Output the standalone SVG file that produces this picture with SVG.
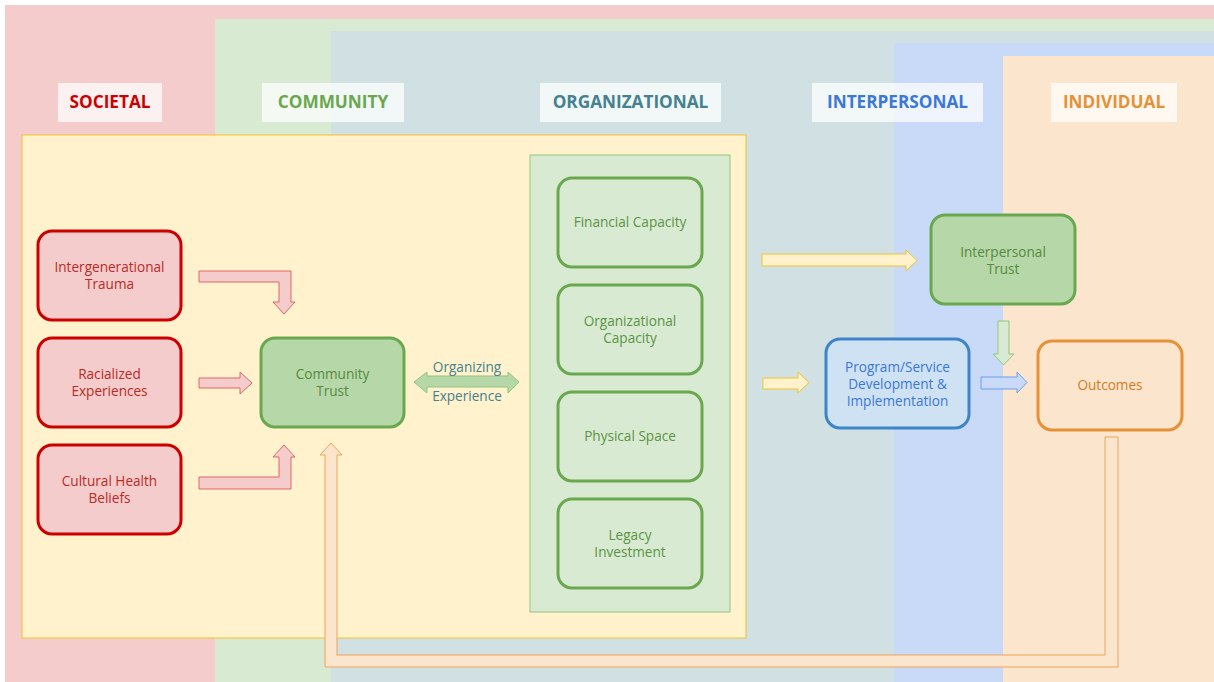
<svg xmlns="http://www.w3.org/2000/svg" width="1214" height="682" viewBox="0 0 1214 682">
<style>
.hdrbox{fill:#ffffff;fill-opacity:0.72}
.hdr{font-family:"Open Sans","Liberation Sans",sans-serif;font-size:17.2px;font-weight:bold;text-anchor:middle}
.lbl{font-family:"Open Sans","Liberation Sans",sans-serif;font-size:13.6px;text-anchor:middle}
.red{fill:#f4cccc;stroke:#cc0000;stroke-width:3}
.grn{fill:#b6d7a8;stroke:#6aa84f;stroke-width:3}
.lgrn{fill:#d9ead3;stroke:#6aa84f;stroke-width:3}
.arr-red{fill:#f4cccc;stroke:#e06666;stroke-width:1}
.arr-yel{fill:#fff2cc;stroke:#f1c232;stroke-width:1}
.arr-grn{fill:#b6d7a8;stroke:#93c47d;stroke-width:1}
.arr-lgrn{fill:#d9ead3;stroke:#93c47d;stroke-width:1}
.arr-blu{fill:#c9daf8;stroke:#6d9eeb;stroke-width:1}
.arr-org{fill:#fce5cd;stroke:#f0a45a;stroke-width:1}
</style>
<rect x="0" y="0" width="1214" height="682" fill="#ffffff"/>
<g id="bands">
<rect x="5" y="5" width="1209" height="677" fill="#f4cccc"/>
<rect x="215" y="19" width="999" height="663" fill="#d9ead3"/>
<rect x="331" y="31" width="883" height="651" fill="#d0e0e3"/>
<rect x="894" y="43" width="320" height="639" fill="#c9daf8"/>
<rect x="1003" y="56" width="211" height="626" fill="#fce5cd"/>
</g>
<g id="headers">
<rect class="hdrbox" x="58" y="83" width="104" height="39"/>
<text class="hdr" x="110" y="108" fill="#cc0000">SOCIETAL</text>
<rect class="hdrbox" x="262" y="83" width="142" height="39"/>
<text class="hdr" x="333" y="108" fill="#6aa84f">COMMUNITY</text>
<rect class="hdrbox" x="540" y="83" width="181" height="39"/>
<text class="hdr" x="630.5" y="108" fill="#45818e">ORGANIZATIONAL</text>
<rect class="hdrbox" x="812" y="83" width="171" height="39"/>
<text class="hdr" x="897.5" y="108" fill="#3c78d8">INTERPERSONAL</text>
<rect class="hdrbox" x="1051" y="83" width="126" height="39"/>
<text class="hdr" x="1114" y="108" fill="#e69138">INDIVIDUAL</text>
</g>
<g id="community-zone">
<rect x="22" y="135" width="724" height="503" fill="#fff2cc" stroke="#f1c232" stroke-width="1"/>
</g>
<g id="org-zone">
<rect x="530" y="155" width="200" height="457" fill="#d9ead3" stroke="#93c47d" stroke-width="1"/>
</g>
<g id="connectors">
<path class="arr-red" d="M199,271 H291 V302 H295 L284,314 L273,302 H279 V282 H199 Z"/>
<path class="arr-red" d="M199,378 H240 V372 L252,383 L240,394 V388 H199 Z"/>
<path class="arr-red" d="M199,489 H291 V457 H295 L284,445 L273,457 H279 V477 H199 Z"/>
<path class="arr-grn" d="M414,382 L427,372 V376 H508 V372 L519,382 L508,393 V387 H427 V393 Z"/>
<path class="arr-yel" d="M762,254 H906 V250 L917,260.5 L906,271 V266 H762 Z"/>
<path class="arr-yel" d="M763,378 H798 V372 L809,382.5 L798,393 V389 H763 Z"/>
<path class="arr-lgrn" d="M998,321 H1009 V354 H1014 L1003.5,365 L993,354 H998 Z"/>
<path class="arr-blu" d="M981,377 H1017 V372 L1027,382.5 L1017,393 V389 H981 Z"/>
<path class="arr-org" d="M1105,437 H1118 V667 H325 V455 H320 L331,443 L342,455 H337 V655 H1105 Z"/>
<text class="lbl" x="467" y="372" font-size="12.5" fill="#45818e">Organizing</text>
<text class="lbl" x="467" y="401" font-size="12.5" fill="#45818e">Experience</text>
</g>
<g id="intergenerational-trauma">
<rect class="red" x="38" y="231" width="143" height="89" rx="14"/>
<text class="lbl" fill="#bb2a26"><tspan x="109.5" y="272">Intergenerational</tspan><tspan x="109.5" y="289">Trauma</tspan></text>
</g>
<g id="racialized-experiences">
<rect class="red" x="38" y="338" width="143" height="89" rx="14"/>
<text class="lbl" fill="#bb2a26"><tspan x="109.5" y="379">Racialized</tspan><tspan x="109.5" y="396">Experiences</tspan></text>
</g>
<g id="cultural-health-beliefs">
<rect class="red" x="38" y="445" width="143" height="89" rx="14"/>
<text class="lbl" fill="#bb2a26"><tspan x="109.5" y="486">Cultural Health</tspan><tspan x="109.5" y="503">Beliefs</tspan></text>
</g>
<g id="community-trust">
<rect class="grn" x="261" y="338" width="143" height="89" rx="14"/>
<text class="lbl" fill="#558a40"><tspan x="332.5" y="379">Community</tspan><tspan x="332.5" y="396">Trust</tspan></text>
</g>
<g id="financial-capacity">
<rect class="lgrn" x="558" y="178" width="144" height="89" rx="14"/>
<text class="lbl" fill="#5b9444" x="630" y="227">Financial Capacity</text>
</g>
<g id="organizational-capacity">
<rect class="lgrn" x="558" y="285" width="144" height="89" rx="14"/>
<text class="lbl" fill="#5b9444"><tspan x="630" y="326">Organizational</tspan><tspan x="630" y="343">Capacity</tspan></text>
</g>
<g id="physical-space">
<rect class="lgrn" x="558" y="392" width="144" height="89" rx="14"/>
<text class="lbl" fill="#5b9444" x="630" y="441">Physical Space</text>
</g>
<g id="legacy-investment">
<rect class="lgrn" x="558" y="499" width="144" height="89" rx="14"/>
<text class="lbl" fill="#5b9444"><tspan x="630" y="540">Legacy</tspan><tspan x="630" y="557">Investment</tspan></text>
</g>
<g id="interpersonal-trust">
<rect class="grn" x="931" y="215" width="144" height="89" rx="14"/>
<text class="lbl" fill="#558a40"><tspan x="1003" y="257">Interpersonal</tspan><tspan x="1003" y="274">Trust</tspan></text>
</g>
<g id="program-service">
<rect x="826" y="339" width="143" height="89" rx="14" fill="#cfe2f3" stroke="#3d85c6" stroke-width="3"/>
<text class="lbl" fill="#3c78d8"><tspan x="897.5" y="372">Program/Service</tspan><tspan x="897.5" y="389">Development &amp;</tspan><tspan x="897.5" y="406">Implementation</tspan></text>
</g>
<g id="outcomes">
<rect x="1038" y="341" width="144" height="89" rx="14" fill="#fce5cd" stroke="#e69138" stroke-width="3"/>
<text class="lbl" fill="#d47c22" x="1110" y="390">Outcomes</text>
</g>
</svg>
